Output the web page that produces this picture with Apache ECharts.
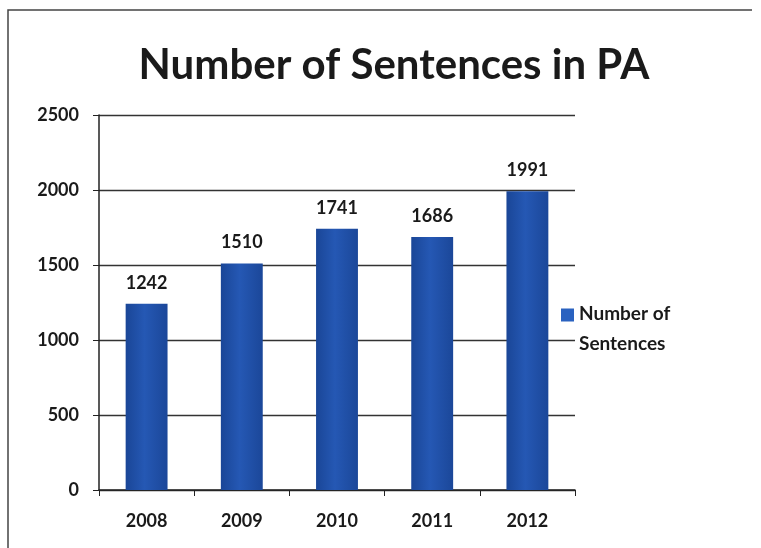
<!DOCTYPE html>
<html><head><meta charset="utf-8">
<script src="https://cdn.jsdelivr.net/npm/echarts@6/dist/echarts.min.js"></script>
<style>html,body{margin:0;padding:0;background:#fff}#c{width:761px;height:548px}</style>
</head><body><div id="c"></div>
<script>
var categories = ['2008', '2009', '2010', '2011', '2012'];
var sentences = [1242, 1510, 1741, 1686, 1991];
var yTicks = [0, 500, 1000, 1500, 2000, 2500];
var seriesName = 'Number of\nSentences';
var titleText = 'Number of Sentences in PA';

var chart = echarts.init(document.getElementById('c'), null, {renderer: 'canvas'});
var font = 'Lato, "Open Sans", sans-serif';
var barGrad = new echarts.graphic.LinearGradient(0, 0, 1, 0, [
  {offset: 0, color: '#1a4697'},
  {offset: 0.45, color: '#2558b4'},
  {offset: 1, color: '#1b4799'}
]);
chart.setOption({
  animation: false,
  backgroundColor: '#ffffff',
  title: {
    text: titleText, left: 389, top: 39, textAlign: 'center',
    textStyle: {fontFamily: font, fontWeight: 'bold', fontSize: 42, color: '#1a1a1a'}
  },
  legend: {
    left: 556, top: 294, orient: 'vertical',
    itemWidth: 13, itemHeight: 41, itemGap: 8,
    icon: 'path://M0,0L13,0L13,13L0,13Z M0,41L0.01,41L0.01,41.01Z',
    textStyle: {fontFamily: font, fontSize: 19, fontWeight: 'bold', color: '#1a1a1a', lineHeight: 30},
    data: [{name: seriesName, itemStyle: {color: '#2a62c0'}}]
  },
  grid: {left: 99, right: 186, top: 115, bottom: 58, containLabel: false},
  xAxis: {
    type: 'category', data: categories,
    axisLine: {lineStyle: {color: '#222', width: 1.5}},
    axisTick: {show: true, length: 6, alignWithLabel: false, lineStyle: {color: '#222'}},
    axisLabel: {fontFamily: font, fontSize: 18, fontWeight: 'bold', color: '#1a1a1a', margin: 22}
  },
  yAxis: {
    type: 'value', min: yTicks[0], max: yTicks[yTicks.length - 1], interval: 500,
    axisLine: {show: true, lineStyle: {color: '#222', width: 1.5}},
    axisTick: {show: true, length: 6, inside: false, lineStyle: {color: '#222'}},
    splitLine: {lineStyle: {color: '#333', width: 1.3}},
    axisLabel: {fontFamily: font, fontSize: 18, fontWeight: 'bold', color: '#1a1a1a', margin: 20,
      formatter: function (v) { return String(v); }}
  },
  series: [{
    name: seriesName, type: 'bar', data: sentences, barWidth: '44%',
    itemStyle: {color: barGrad},
    label: {show: true, position: 'top', distance: 12, fontFamily: font, fontSize: 18, fontWeight: 'bold', color: '#1a1a1a'}
  }],
  graphic: [{
    type: 'polyline', shape: {points: [[8, 548], [8, 10], [752, 10]]},
    style: {fill: 'none', stroke: '#444', lineWidth: 1.5}, silent: true
  }]
});
</script></body></html>
